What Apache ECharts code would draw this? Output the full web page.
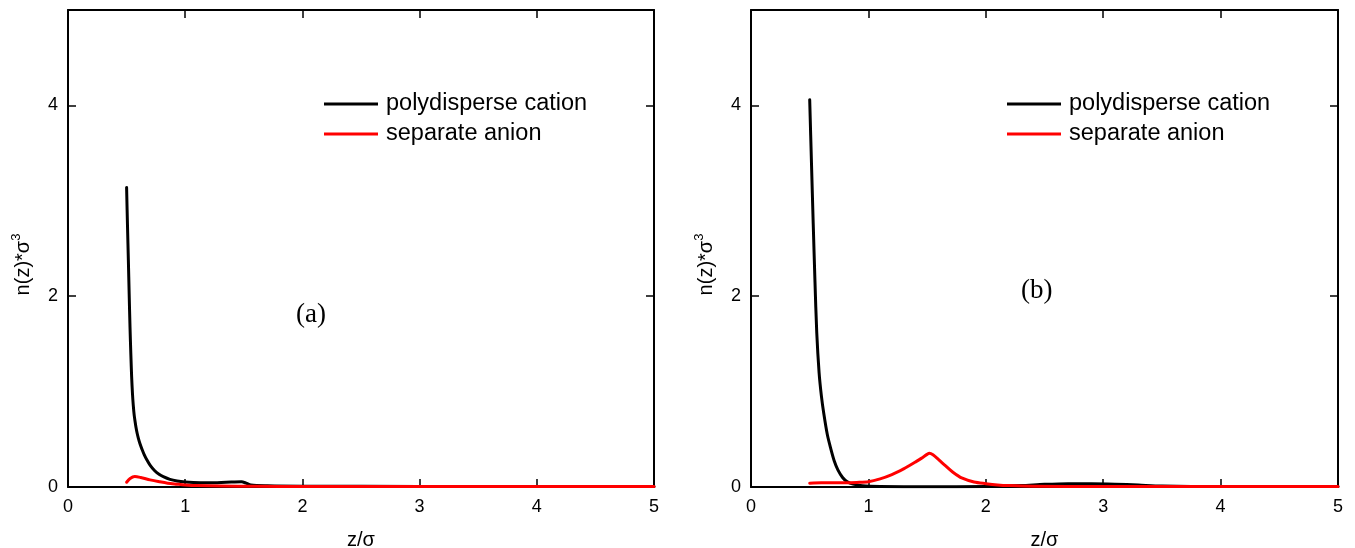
<!DOCTYPE html>
<html>
<head>
<meta charset="utf-8">
<script src="https://cdn.jsdelivr.net/npm/echarts@6/dist/echarts.min.js"></script>
<style>html,body{margin:0;padding:0;background:#fff;}#c{width:1355px;height:548px;}</style>
</head>
<body>
<div id="c"></div>
<script>
// ---- data ----
const seriesNames = ['polydisperse cation', 'separate anion'];
const xTicks = [0, 1, 2, 3, 4, 5];
const yTicks = [0, 2, 4];
const panelLabels = ['(a)', '(b)'];

// panel (a)
const aCationZ = [0.5, 0.508, 0.515, 0.522, 0.529, 0.536, 0.543, 0.55, 0.557, 0.565, 0.572, 0.58, 0.59, 0.6, 0.615, 0.63, 0.65, 0.675, 0.7, 0.74, 0.78, 0.813, 0.87, 0.93, 1.0, 1.07, 1.2, 1.35, 1.48, 1.52, 1.56, 1.7, 2.0, 3.0, 4.0, 5.0];
const aCationN = [3.14, 2.72, 2.38, 2.02, 1.68, 1.40, 1.155, 0.98, 0.855, 0.75, 0.69, 0.627, 0.564, 0.513, 0.45, 0.40, 0.34, 0.28, 0.23, 0.17, 0.13, 0.108, 0.08, 0.063, 0.052, 0.047, 0.045, 0.05, 0.055, 0.04, 0.02, 0.012, 0.008, 0.006, 0.005, 0.005];
const aAnionZ = [0.5, 0.53, 0.57, 0.62, 0.7, 0.78, 0.85, 0.93, 1.0, 1.1, 1.3, 1.6, 2.0, 3.0, 4.0, 5.0];
const aAnionN = [0.05, 0.09, 0.11, 0.1, 0.075, 0.055, 0.04, 0.03, 0.022, 0.015, 0.01, 0.008, 0.005, 0.005, 0.005, 0.005];

// panel (b)
const bCationZ = [0.5, 0.515, 0.53, 0.545, 0.56, 0.58, 0.6, 0.62, 0.65, 0.68, 0.71, 0.74, 0.78, 0.82, 0.87, 0.95, 1.1, 1.5, 2.0, 2.3, 2.5, 2.7, 2.9, 3.1, 3.3, 3.5, 4.0, 5.0];
const bCationN = [4.06, 3.4, 2.76, 2.15, 1.62, 1.2, 0.95, 0.77, 0.55, 0.40, 0.27, 0.18, 0.1, 0.055, 0.03, 0.012, 0.005, 0.003, 0.005, 0.015, 0.028, 0.035, 0.035, 0.03, 0.02, 0.01, 0.005, 0.004];
const bAnionZ = [0.5, 0.6, 0.7, 0.8, 0.9, 1.0, 1.1, 1.2, 1.3, 1.35, 1.4, 1.45, 1.5, 1.52, 1.55, 1.6, 1.65, 1.72, 1.8, 1.9, 2.0, 2.1, 2.2, 2.4, 3.0, 4.0, 5.0];
const bAnionN = [0.04, 0.045, 0.045, 0.045, 0.048, 0.055, 0.085, 0.13, 0.19, 0.225, 0.262, 0.3, 0.342, 0.355, 0.338, 0.285, 0.23, 0.155, 0.092, 0.052, 0.035, 0.022, 0.015, 0.008, 0.005, 0.005, 0.005];

// ---- helpers ----
const pairs = (xs, ys) => xs.map((x, i) => [x, ys[i]]);
const FONT = 'Liberation Sans, Arial, sans-serif';
const axisLineStyle = { color: '#000', width: 2 };
const tickStyle = { show: true, inside: true, length: 8, lineStyle: { color: '#000', width: 1.5 } };

function xAxes(gridIndex) {
  return [
    {
      type: 'value', gridIndex, position: 'bottom', min: xTicks[0], max: xTicks[xTicks.length - 1], interval: 1,
      name: 'z/σ', nameLocation: 'middle', nameGap: 43,
      nameTextStyle: { fontFamily: FONT, fontSize: 20, color: '#000' },
      axisLine: { show: true, onZero: false, lineStyle: axisLineStyle },
      axisTick: tickStyle,
      axisLabel: { show: true, margin: 11, fontFamily: FONT, fontSize: 18, color: '#000' },
      splitLine: { show: false }
    },
    {
      type: 'value', gridIndex, position: 'top', min: xTicks[0], max: xTicks[xTicks.length - 1], interval: 1,
      axisLine: { show: true, onZero: false, lineStyle: axisLineStyle },
      axisTick: tickStyle, axisLabel: { show: false }, splitLine: { show: false }
    }
  ];
}
function yAxes(gridIndex) {
  return [
    {
      type: 'value', gridIndex, position: 'left', min: 0, max: 5, interval: 2,
      name: '{a|n(z)*σ}{s|3}', nameLocation: 'middle', nameGap: 32, nameRotate: 90,
      nameTextStyle: {
        padding: [0, 32, 0, 0],
        rich: {
          a: { fontFamily: FONT, fontSize: 20, color: '#000', lineHeight: 26 },
          s: { fontFamily: FONT, fontSize: 13, color: '#000', lineHeight: 12, verticalAlign: 'top' }
        }
      },
      axisLine: { show: true, onZero: false, lineStyle: axisLineStyle },
      axisTick: tickStyle,
      axisLabel: {
        show: true, margin: 10, fontFamily: FONT, fontSize: 18, color: '#000',
        formatter: v => (yTicks.indexOf(v) >= 0 ? String(v) : '')
      },
      splitLine: { show: false }
    },
    {
      type: 'value', gridIndex, position: 'right', min: 0, max: 5, interval: 2,
      axisLine: { show: true, onZero: false, lineStyle: axisLineStyle },
      axisTick: tickStyle, axisLabel: { show: false }, splitLine: { show: false }
    }
  ];
}
function lineSeries(name, data, color, xi, yi) {
  return {
    type: 'line', name, data, xAxisIndex: xi, yAxisIndex: yi,
    showSymbol: false, symbol: 'none', smooth: 0.3,
    lineStyle: { color, width: 3, join: 'round', cap: 'round' }, itemStyle: { color },
    animation: false, silent: true
  };
}
function legendAt(left) {
  return {
    left, top: 92, orient: 'vertical', itemGap: 6, itemWidth: 54, itemHeight: 3, padding: 0,
    icon: 'rect', data: seriesNames, selectedMode: false,
    textStyle: { fontFamily: FONT, fontSize: 23.5, color: '#000', lineHeight: 23, padding: [0, 0, 0, 3] }
  };
}

const chart = echarts.init(document.getElementById('c'), null, { renderer: 'canvas' });
chart.setOption({
  backgroundColor: '#fff',
  animation: false,
  grid: [
    { left: 68, right: 701, top: 10, bottom: 61, containLabel: false, outerBoundsMode: 'none' },
    { left: 751, right: 17, top: 10, bottom: 61, containLabel: false, outerBoundsMode: 'none' }
  ],
  xAxis: [...xAxes(0), ...xAxes(1)],
  yAxis: [...yAxes(0), ...yAxes(1)],
  legend: [legendAt(324), legendAt(1007)],
  graphic: [
    { type: 'text', left: 296, top: 301, style: { text: panelLabels[0], font: '27px "Liberation Serif", "Times New Roman", serif', fill: '#000' } },
    { type: 'text', left: 1021, top: 277, style: { text: panelLabels[1], font: '27px "Liberation Serif", "Times New Roman", serif', fill: '#000' } }
  ],
  series: [
    lineSeries(seriesNames[0], pairs(aCationZ, aCationN), '#000000', 0, 0),
    lineSeries(seriesNames[1], pairs(aAnionZ, aAnionN), '#ff0000', 0, 0),
    lineSeries(seriesNames[0], pairs(bCationZ, bCationN), '#000000', 2, 2),
    lineSeries(seriesNames[1], pairs(bAnionZ, bAnionN), '#ff0000', 2, 2)
  ]
});
</script>
</body>
</html>
